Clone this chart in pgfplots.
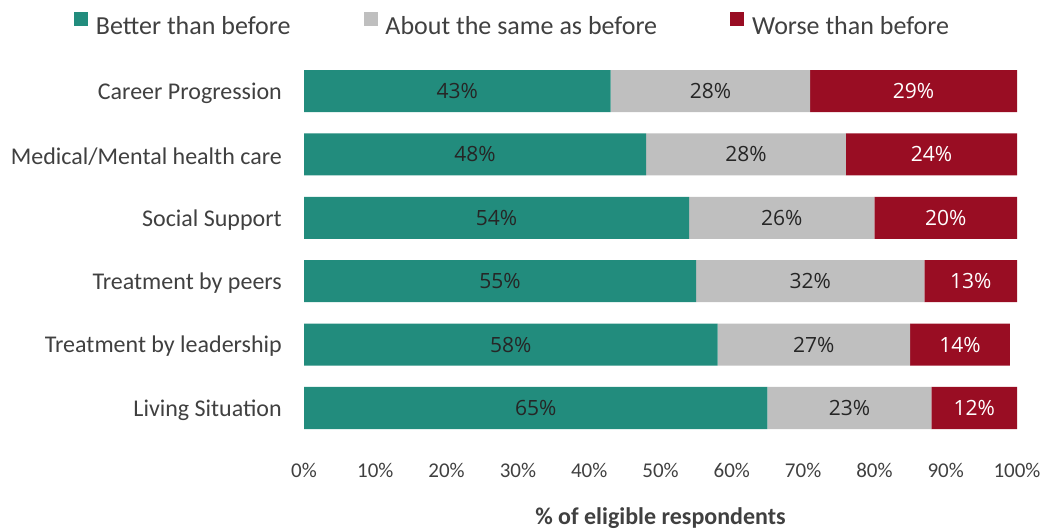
\documentclass[border=0pt]{standalone}
\usepackage{pgfplots}
\usepackage{pgfplotstable}
\pgfplotsset{compat=1.18}
\usepackage{fontspec}
\setmainfont{Carlito}
\newfontfamily\barfont{Open Sans}

\definecolor{better}{RGB}{34,140,125}
\definecolor{same}{RGB}{191,191,191}
\definecolor{worse}{RGB}{153,13,35}
\definecolor{txt}{RGB}{64,64,64}

% y: 5 = top row
\pgfplotstableread{
y b  s  w
5 43 28 29
4 48 28 24
3 54 26 20
2 55 32 13
1 58 27 14
0 65 23 12
}\survey

\begin{document}
\begin{tikzpicture}
\path[use as bounding box] (0,0) rectangle (1048bp,529bp);
\begin{axis}[
    at={(304bp,89.3bp)}, anchor=south west,
    scale only axis, width=713bp, height=380.4bp,
    xbar stacked, bar width=42bp,
    xmin=0, xmax=100, ymin=-0.5, ymax=5.5,
    ytick={0,...,5},
    yticklabels={Living Situation,Treatment by leadership,Treatment by peers,Social Support,Medical/Mental health care,Career Progression},
    xtick={0,10,...,100},
    xticklabels={0\%,10\%,20\%,30\%,40\%,50\%,60\%,70\%,80\%,90\%,100\%},
    axis line style={draw=none}, major tick length=0pt,
    /pgf/number format/assume math mode=true,
    yticklabel style={font=\fontsize{24bp}{28bp}\selectfont, text=txt, inner sep=0pt, xshift=-22bp, yshift=-2bp},
    xticklabel style={font=\fontsize{21bp}{25bp}\selectfont, text=txt, inner sep=0pt, anchor=north, yshift=-23bp},
    xlabel={\% of eligible respondents},
    xlabel style={at={(axis description cs:0.5,0)}, anchor=base, yshift=-85bp,
        font=\fontsize{24bp}{28bp}\selectfont\bfseries, text=txt},
    legend columns=3,
    legend style={draw=none, fill=none, inner sep=0pt, outer sep=0pt,
        at={(-0.3226,1.093)}, anchor=west,
        font=\fontsize{26bp}{30bp}\selectfont, text=txt,
        nodes={inner sep=0pt},
        /tikz/every odd column/.append style={column sep=8bp},
        /tikz/every even column/.append style={column sep=73bp}},
    legend image code/.code={\path[#1] (0bp,1bp) rectangle (14bp,15bp);},
    nodes near coords={\barfont\fontsize{21bp}{25bp}\selectfont\pgfmathprintnumber{\pgfplotspointmeta}\%},
    point meta=explicit,
    every node near coord/.append style={anchor=center},
]
\addplot[fill=better, draw=none,
    every node near coord/.append style={text=black!85}]
    table[x=b, y=y, meta=b] {\survey};
\addplot[fill=same, draw=none,
    every node near coord/.append style={text=black!85}]
    table[x=s, y=y, meta=s] {\survey};
\addplot[fill=worse, draw=none,
    every node near coord/.append style={text=white}]
    table[x=w, y=y, meta=w] {\survey};
\legend{Better than before, About the same as before, Worse than before}
\end{axis}
\end{tikzpicture}
\end{document}
